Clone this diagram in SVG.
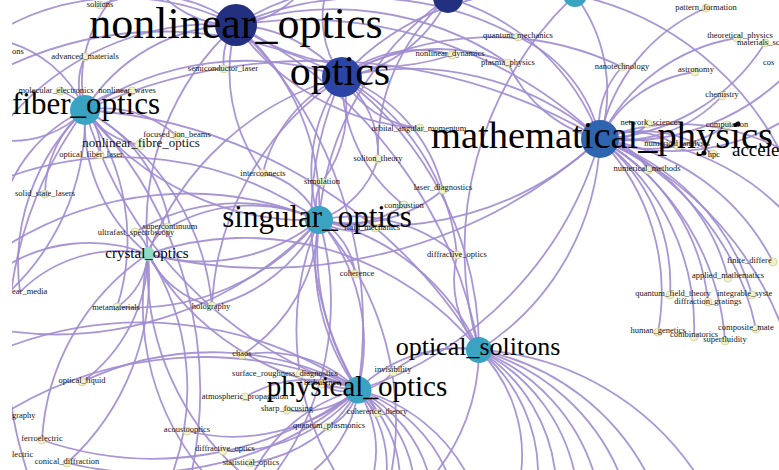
<svg xmlns="http://www.w3.org/2000/svg" width="779" height="470" viewBox="0 0 779 470">
<defs>
<clipPath id="c"><rect x="12" y="0" width="767" height="470"/></clipPath>
<style>
.e{fill:none;stroke:#a08bd0;stroke-width:1.8;stroke-opacity:.9}
.s{fill:#f2f2c8;stroke:#cfcf9c;stroke-width:.8}
.t{font-family:"Liberation Serif",serif;font-size:8.5px;fill:#151515;text-anchor:middle}
.ts{font-family:"Liberation Serif",serif;font-size:8.5px;fill:#151515;text-anchor:start}
.L{font-family:"Liberation Serif",serif;fill:#000;text-anchor:middle}
.dk{fill:#22307f}
.bl{fill:#2b45a6}
.mb{fill:#2f65ae}
.tl{fill:#3aa3c2}
</style>
</defs>
<rect width="779" height="470" fill="#fff"/>
<g clip-path="url(#c)">
<g id="connectors">
<path class="e" d="M85 110 A180 180 0 0 1 236 25"/>
<path class="e" d="M85 110 A290 290 0 0 1 342 77"/>
<path class="e" d="M85 110 A560 560 0 0 1 600 139"/>
<path class="e" d="M85 110 A280 280 0 0 0 319 220"/>
<path class="e" d="M85 110 A170 170 0 0 0 148 254"/>
<path class="e" d="M85 110 A420 420 0 0 0 358 390"/>
<path class="e" d="M85 110 A500 500 0 0 1 479 350"/>
<path class="e" d="M85 110 A110 110 0 0 0 45 194"/>
<path class="e" d="M85 110 A60 60 0 0 1 85 57"/>
<path class="e" d="M85 110 A45 45 0 0 0 60 91"/>
<path class="e" d="M85 110 A60 60 0 0 1 132 91"/>
<path class="e" d="M85 110 A60 60 0 0 1 100 155"/>
<path class="e" d="M85 110 A80 80 0 0 0 140 145"/>
<path class="e" d="M85 110 A110 110 0 0 1 177 136"/>
<path class="e" d="M85 110 A120 120 0 0 0 0 40"/>
<path class="e" d="M85 110 A100 100 0 0 1 0 140"/>
<path class="e" d="M85 110 A150 150 0 0 0 0 215"/>
<path class="e" d="M85 110 A240 240 0 0 1 0 300"/>
<path class="e" d="M85 110 A220 220 0 0 1 117 307"/>
<path class="e" d="M85 110 A210 210 0 0 0 20 292"/>
<path class="e" d="M85 110 A160 160 0 0 1 170 227"/>
<path class="e" d="M85 110 A130 130 0 0 1 120 -10"/>
<path class="e" d="M85 110 A400 400 0 0 0 30 480"/>
<path class="e" d="M85 110 A400 400 0 0 1 190 480"/>
<path class="e" d="M85 110 A250 250 0 0 1 212 306"/>
<path class="e" d="M236 25 A150 150 0 0 1 342 77"/>
<path class="e" d="M236 25 A430 430 0 0 1 600 139"/>
<path class="e" d="M236 25 A240 240 0 0 1 319 220"/>
<path class="e" d="M236 25 A60 60 0 0 0 224 69"/>
<path class="e" d="M236 25 A140 140 0 0 0 100 5"/>
<path class="e" d="M236 25 A250 250 0 0 1 448 -2"/>
<path class="e" d="M236 25 A250 250 0 0 0 452 55"/>
<path class="e" d="M236 25 A320 320 0 0 1 518 37"/>
<path class="e" d="M236 25 A270 270 0 0 0 148 254"/>
<path class="e" d="M236 25 A450 450 0 0 1 479 350"/>
<path class="e" d="M236 25 A420 420 0 0 1 358 390"/>
<path class="e" d="M236 25 A250 250 0 0 0 0 30"/>
<path class="e" d="M236 25 A270 270 0 0 0 0 130"/>
<path class="e" d="M236 25 A100 100 0 0 0 310 -20"/>
<path class="e" d="M236 25 A100 100 0 0 1 150 -20"/>
<path class="e" d="M236 25 A240 240 0 0 0 420 128"/>
<path class="e" d="M236 25 A310 310 0 0 1 508 63"/>
<path class="e" d="M236 25 A170 170 0 0 0 263 173"/>
<path class="e" d="M342 77 A290 290 0 0 1 600 139"/>
<path class="e" d="M342 77 A160 160 0 0 0 319 220"/>
<path class="e" d="M342 77 A140 140 0 0 0 448 -2"/>
<path class="e" d="M342 77 A260 260 0 0 1 575 -5"/>
<path class="e" d="M342 77 A100 100 0 0 1 378 159"/>
<path class="e" d="M342 77 A100 100 0 0 0 420 128"/>
<path class="e" d="M342 77 A140 140 0 0 0 263 173"/>
<path class="e" d="M342 77 A120 120 0 0 1 322 182"/>
<path class="e" d="M342 77 A160 160 0 0 1 443 190"/>
<path class="e" d="M342 77 A160 160 0 0 0 404 205"/>
<path class="e" d="M342 77 A340 340 0 0 1 479 350"/>
<path class="e" d="M342 77 A340 340 0 0 0 358 390"/>
<path class="e" d="M342 77 A300 300 0 0 1 622 67"/>
<path class="e" d="M342 77 A120 120 0 0 1 452 55"/>
<path class="e" d="M342 77 A180 180 0 0 1 508 63"/>
<path class="e" d="M342 77 A290 290 0 0 0 148 254"/>
<path class="e" d="M342 77 A230 230 0 0 1 457 255"/>
<path class="e" d="M342 77 A290 290 0 0 0 212 306"/>
<path class="e" d="M342 77 A370 370 0 0 0 0 70"/>
<path class="e" d="M342 77 A100 100 0 0 1 330 -20"/>
<path class="e" d="M600 139 A55 55 0 0 0 648 124"/>
<path class="e" d="M600 139 A135 135 0 0 0 727 125"/>
<path class="e" d="M600 139 A80 80 0 0 1 678 146"/>
<path class="e" d="M600 139 A120 120 0 0 1 713 154"/>
<path class="e" d="M600 139 A60 60 0 0 1 648 170"/>
<path class="e" d="M600 139 A230 230 0 0 1 773 262"/>
<path class="e" d="M600 139 A200 200 0 0 1 728 278"/>
<path class="e" d="M600 139 A185 185 0 0 1 670 295"/>
<path class="e" d="M600 139 A235 235 0 0 1 752 295"/>
<path class="e" d="M600 139 A210 210 0 0 1 708 302"/>
<path class="e" d="M600 139 A220 220 0 0 1 658 332"/>
<path class="e" d="M600 139 A235 235 0 0 1 694 337"/>
<path class="e" d="M600 139 A265 265 0 0 1 756 329"/>
<path class="e" d="M600 139 A255 255 0 0 1 725 341"/>
<path class="e" d="M600 139 A85 85 0 0 1 622 67"/>
<path class="e" d="M600 139 A125 125 0 0 1 695 72"/>
<path class="e" d="M600 139 A140 140 0 0 0 722 96"/>
<path class="e" d="M600 139 A185 185 0 0 1 737 38"/>
<path class="e" d="M600 139 A205 205 0 0 0 765 43"/>
<path class="e" d="M600 139 A180 180 0 0 1 706 8"/>
<path class="e" d="M600 139 A230 230 0 0 0 800 60"/>
<path class="e" d="M600 139 A145 145 0 0 0 518 37"/>
<path class="e" d="M600 139 A135 135 0 0 1 508 63"/>
<path class="e" d="M600 139 A160 160 0 0 0 575 -5"/>
<path class="e" d="M600 139 A230 230 0 0 0 448 -2"/>
<path class="e" d="M600 139 A320 320 0 0 1 319 220"/>
<path class="e" d="M600 139 A260 260 0 0 1 479 350"/>
<path class="e" d="M600 139 A370 370 0 0 1 358 390"/>
<path class="e" d="M600 139 A500 500 0 0 1 148 254"/>
<path class="e" d="M600 139 A220 220 0 0 1 800 160"/>
<path class="e" d="M600 139 A220 220 0 0 0 800 110"/>
<path class="e" d="M600 139 A240 240 0 0 1 800 230"/>
<path class="e" d="M600 139 A330 330 0 0 1 800 400"/>
<path class="e" d="M319 220 A80 80 0 0 0 263 173"/>
<path class="e" d="M319 220 A45 45 0 0 1 322 182"/>
<path class="e" d="M319 220 A95 95 0 0 0 378 159"/>
<path class="e" d="M319 220 A65 65 0 0 0 375 228"/>
<path class="e" d="M319 220 A70 70 0 0 1 355 274"/>
<path class="e" d="M319 220 A160 160 0 0 1 212 306"/>
<path class="e" d="M319 220 A190 190 0 0 1 148 254"/>
<path class="e" d="M319 220 A200 200 0 0 0 135 232"/>
<path class="e" d="M319 220 A165 165 0 0 0 170 227"/>
<path class="e" d="M319 220 A240 240 0 0 1 117 307"/>
<path class="e" d="M319 220 A160 160 0 0 1 457 255"/>
<path class="e" d="M319 220 A145 145 0 0 0 443 190"/>
<path class="e" d="M319 220 A100 100 0 0 0 404 205"/>
<path class="e" d="M319 220 A230 230 0 0 1 479 350"/>
<path class="e" d="M319 220 A190 190 0 0 1 358 390"/>
<path class="e" d="M319 220 A260 260 0 0 0 358 390"/>
<path class="e" d="M319 220 A340 340 0 0 0 0 250"/>
<path class="e" d="M319 220 A360 360 0 0 1 0 330"/>
<path class="e" d="M319 220 A290 290 0 0 1 270 480"/>
<path class="e" d="M319 220 A280 280 0 0 0 340 480"/>
<path class="e" d="M319 220 A300 300 0 0 1 390 480"/>
<path class="e" d="M319 220 A220 220 0 0 0 377 413"/>
<path class="e" d="M319 220 A170 170 0 0 1 242 355"/>
<path class="e" d="M319 220 A340 340 0 0 0 0 180"/>
<path class="e" d="M148 254 A30 30 0 0 0 135 232"/>
<path class="e" d="M148 254 A40 40 0 0 1 170 227"/>
<path class="e" d="M148 254 A70 70 0 0 1 117 307"/>
<path class="e" d="M148 254 A95 95 0 0 0 212 306"/>
<path class="e" d="M148 254 A140 140 0 0 0 20 292"/>
<path class="e" d="M148 254 A250 250 0 0 1 170 480"/>
<path class="e" d="M148 254 A260 260 0 0 0 210 480"/>
<path class="e" d="M148 254 A270 270 0 0 0 250 480"/>
<path class="e" d="M148 254 A270 270 0 0 0 358 390"/>
<path class="e" d="M148 254 A160 160 0 0 1 82 382"/>
<path class="e" d="M148 254 A250 250 0 0 1 67 463"/>
<path class="e" d="M148 254 A240 240 0 0 0 42 440"/>
<path class="e" d="M148 254 A160 160 0 0 0 0 270"/>
<path class="e" d="M148 254 A300 300 0 0 1 479 350"/>
<path class="e" d="M479 350 A150 150 0 0 1 520 480"/>
<path class="e" d="M479 350 A160 160 0 0 1 538 480"/>
<path class="e" d="M479 350 A170 170 0 0 1 556 480"/>
<path class="e" d="M479 350 A180 180 0 0 1 576 480"/>
<path class="e" d="M479 350 A195 195 0 0 1 596 480"/>
<path class="e" d="M479 350 A215 215 0 0 1 622 480"/>
<path class="e" d="M479 350 A240 240 0 0 1 650 480"/>
<path class="e" d="M479 350 A280 280 0 0 1 700 480"/>
<path class="e" d="M479 350 A100 100 0 0 0 393 372"/>
<path class="e" d="M479 350 A140 140 0 0 0 358 390"/>
<path class="e" d="M479 350 A110 110 0 0 1 457 255"/>
<path class="e" d="M479 350 A200 200 0 0 1 430 480"/>
<path class="e" d="M358 390 A110 110 0 0 1 372 480"/>
<path class="e" d="M358 390 A115 115 0 0 1 386 480"/>
<path class="e" d="M358 390 A120 120 0 0 1 400 480"/>
<path class="e" d="M358 390 A125 125 0 0 1 414 480"/>
<path class="e" d="M358 390 A135 135 0 0 1 430 480"/>
<path class="e" d="M358 390 A150 150 0 0 1 450 480"/>
<path class="e" d="M358 390 A170 170 0 0 1 470 480"/>
<path class="e" d="M358 390 A130 130 0 0 0 242 355"/>
<path class="e" d="M358 390 A70 70 0 0 0 300 374"/>
<path class="e" d="M358 390 A45 45 0 0 1 322 384"/>
<path class="e" d="M358 390 A125 125 0 0 0 245 397"/>
<path class="e" d="M358 390 A85 85 0 0 1 287 410"/>
<path class="e" d="M358 390 A40 40 0 0 1 377 413"/>
<path class="e" d="M358 390 A55 55 0 0 1 328 427"/>
<path class="e" d="M358 390 A190 190 0 0 1 187 431"/>
<path class="e" d="M358 390 A165 165 0 0 1 223 451"/>
<path class="e" d="M358 390 A145 145 0 0 1 250 463"/>
<path class="e" d="M358 390 A50 50 0 0 0 393 372"/>
<path class="e" d="M358 390 A300 300 0 0 0 82 382"/>
<path class="e" d="M358 390 A380 380 0 0 0 0 416"/>
<path class="e" d="M358 390 A340 340 0 0 1 42 440"/>
<path class="e" d="M358 390 A320 320 0 0 1 67 463"/>
<path class="e" d="M358 390 A380 380 0 0 0 0 350"/>
<path class="e" d="M358 390 A160 160 0 0 0 250 480"/>
<path class="e" d="M358 390 A120 120 0 0 1 300 480"/>
<path class="e" d="M448 -2 A300 300 0 0 0 319 220"/>
<path class="e" d="M575 -5 A350 350 0 0 0 479 350"/>
<path class="e" d="M575 -5 A300 300 0 0 1 800 200"/>
<path class="e" d="M448 -2 A200 200 0 0 0 378 159"/>
</g>
<g id="n-solitons"><circle class="s" cx="100" cy="5" r="4"/><text class="t" x="100" y="7">solitons</text></g>
<g id="n-ons"><text class="ts" x="12" y="54">ons</text></g>
<g id="n-advanced_materials"><circle class="s" cx="85" cy="57" r="4"/><text class="t" x="85" y="59">advanced_materials</text></g>
<g id="n-semiconductor_laser"><circle class="s" cx="224" cy="69" r="4"/><text class="t" x="223" y="71">semiconductor_laser</text></g>
<g id="n-molecular_electronics"><circle class="s" cx="60" cy="91" r="4"/><text class="t" x="56" y="93">molecular_electronics</text></g>
<g id="n-nonlinear_waves"><circle class="s" cx="132" cy="91" r="4"/><text class="t" x="127" y="93">nonlinear_waves</text></g>
<g id="n-focused_ion_beams"><circle class="s" cx="177" cy="136" r="4"/><text class="t" x="177" y="137">focused_ion_beams</text></g>
<g id="n-nonlinear_fibre_optics"><circle class="s" cx="140" cy="145" r="5"/><text class="t" x="141" y="147" style="font-size:13px">nonlinear_fibre_optics</text></g>
<g id="n-optical_fiber_laser"><circle class="s" cx="100" cy="155" r="4"/><text class="t" x="91" y="157">optical_fiber_laser</text></g>
<g id="n-solid_state_lasers"><circle class="s" cx="45" cy="194" r="4"/><text class="t" x="45" y="196">solid_state_lasers</text></g>
<g id="n-ultrafast_spectroscopy"><circle class="s" cx="135" cy="232" r="4"/><text class="t" x="136" y="235">ultrafast_spectroscopy</text></g>
<g id="n-supercontinuum"><circle class="s" cx="168" cy="227" r="4"/><text class="t" x="170" y="229">supercontinuum</text></g>
<g id="n-ear_media"><text class="ts" x="12" y="294">ear_media</text></g>
<g id="n-metamaterials"><circle class="s" cx="117" cy="307" r="4"/><text class="t" x="116" y="310">metamaterials</text></g>
<g id="n-holography"><circle class="s" cx="212" cy="306" r="4"/><text class="t" x="211" y="309">holography</text></g>
<g id="n-interconnects"><circle class="s" cx="263" cy="173" r="4"/><text class="t" x="263" y="176">interconnects</text></g>
<g id="n-simulation"><circle class="s" cx="322" cy="182" r="4"/><text class="t" x="322" y="184">simulation</text></g>
<g id="n-soliton_theory"><circle class="s" cx="378" cy="159" r="4"/><text class="t" x="378" y="161">soliton_theory</text></g>
<g id="n-orbital_angular_momentum"><circle class="s" cx="420" cy="128" r="4"/><text class="t" x="419" y="131">orbital_angular_momentum</text></g>
<g id="n-combustion"><circle class="s" cx="404" cy="205" r="4"/><text class="t" x="404" y="208">combustion</text></g>
<g id="n-laser_diagnostics"><circle class="s" cx="443" cy="190" r="4"/><text class="t" x="443" y="190">laser_diagnostics</text></g>
<g id="n-fluid_mechanics"><circle class="s" cx="375" cy="228" r="4"/><text class="t" x="372" y="230">fluid_mechanics</text></g>
<g id="n-coherence"><circle class="s" cx="355" cy="274" r="4"/><text class="t" x="357" y="276">coherence</text></g>
<g id="n-diffractive_optics"><circle class="s" cx="457" cy="255" r="4"/><text class="t" x="457" y="257">diffractive_optics</text></g>
<g id="n-nonlinear_dynamics"><circle class="s" cx="452" cy="55" r="4"/><text class="t" x="450" y="56">nonlinear_dynamics</text></g>
<g id="n-quantum_mechanics"><circle class="s" cx="518" cy="37" r="4"/><text class="t" x="518" y="38">quantum_mechanics</text></g>
<g id="n-plasma_physics"><circle class="s" cx="508" cy="63" r="4"/><text class="t" x="508" y="65">plasma_physics</text></g>
<g id="n-pattern_formation"><circle class="s" cx="706" cy="8" r="4"/><text class="t" x="706" y="10">pattern_formation</text></g>
<g id="n-theoretical_physics"><circle class="s" cx="737" cy="38" r="4"/><text class="t" x="740" y="38">theoretical_physics</text></g>
<g id="n-materials_science"><circle class="s" cx="765" cy="43" r="4"/><text class="ts" x="737" y="45">materials_sc</text></g>
<g id="n-nanotechnology"><circle class="s" cx="622" cy="67" r="4"/><text class="t" x="622" y="69">nanotechnology</text></g>
<g id="n-astronomy"><circle class="s" cx="695" cy="72" r="4"/><text class="t" x="696" y="72">astronomy</text></g>
<g id="n-chemistry"><circle class="s" cx="722" cy="96" r="4"/><text class="t" x="722" y="97">chemistry</text></g>
<g id="n-cos"><text class="ts" x="763" y="65">cos</text></g>
<g id="n-network_science"><circle class="s" cx="648" cy="124" r="4"/><text class="t" x="649" y="125">network_science</text></g>
<g id="n-computation"><circle class="s" cx="727" cy="125" r="4"/><text class="t" x="727" y="127">computation</text><circle cx="738" cy="124" r="2.5" fill="#111"/></g>
<g id="n-numerical_analysis"><circle class="s" cx="678" cy="146" r="4"/><text class="t" x="677" y="146">numerical_analysis</text></g>
<g id="n-hpc"><circle class="s" cx="713" cy="154" r="4"/><text class="t" x="714" y="157">hpc</text><circle cx="704" cy="153" r="2.5" fill="#111"/></g>
<g id="n-numerical_methods"><circle class="s" cx="648" cy="170" r="4"/><text class="t" x="647" y="171">numerical_methods</text></g>
<g id="n-finite_difference"><circle class="s" cx="773" cy="262" r="4"/><text class="ts" x="727" y="263">finite_differe</text></g>
<g id="n-applied_mathematics"><circle class="s" cx="728" cy="278" r="4"/><text class="t" x="728" y="278">applied_mathematics</text></g>
<g id="n-quantum_field_theory"><circle class="s" cx="670" cy="295" r="4"/><text class="t" x="673" y="296">quantum_field_theory</text></g>
<g id="n-integrable_systems"><circle class="s" cx="752" cy="295" r="4"/><text class="ts" x="717" y="296">integrable_syste</text></g>
<g id="n-diffraction_gratings"><circle class="s" cx="708" cy="302" r="4"/><text class="t" x="708" y="304">diffraction_gratings</text></g>
<g id="n-human_genetics"><circle class="s" cx="658" cy="332" r="4"/><text class="t" x="658" y="333">human_genetics</text></g>
<g id="n-combinatorics"><circle class="s" cx="694" cy="337" r="4"/><text class="t" x="694" y="337">combinatorics</text></g>
<g id="n-composite_materials"><circle class="s" cx="756" cy="329" r="4"/><text class="ts" x="718" y="330">composite_mate</text></g>
<g id="n-superfluidity"><circle class="s" cx="725" cy="341" r="4"/><text class="t" x="725" y="342">superfluidity</text></g>
<g id="n-chaos"><circle class="s" cx="242" cy="355" r="4"/><text class="t" x="242" y="356">chaos</text></g>
<g id="n-surface_roughness_diagnostics"><circle class="s" cx="300" cy="374" r="4"/><text class="t" x="285" y="376">surface_roughness_diagnostics</text></g>
<g id="n-turbulence"><circle class="s" cx="322" cy="384" r="4"/><text class="t" x="322" y="385">turbulence</text></g>
<g id="n-atmospheric_propagation"><circle class="s" cx="245" cy="397" r="4"/><text class="t" x="245" y="399">atmospheric_propagation</text></g>
<g id="n-sharp_focusing"><circle class="s" cx="287" cy="410" r="4"/><text class="t" x="287" y="411">sharp_focusing</text></g>
<g id="n-coherence_theory"><circle class="s" cx="377" cy="413" r="4"/><text class="t" x="377" y="414">coherence_theory</text></g>
<g id="n-quantum_plasmonics"><circle class="s" cx="328" cy="427" r="4"/><text class="t" x="329" y="428">quantum_plasmonics</text></g>
<g id="n-acoustooptics"><circle class="s" cx="187" cy="431" r="4"/><text class="t" x="187" y="432">acoustooptics</text></g>
<g id="n-diffractive_optics_2"><circle class="s" cx="223" cy="451" r="4"/><text class="t" x="225" y="451">diffractive_optics</text></g>
<g id="n-statistical_optics"><circle class="s" cx="250" cy="463" r="4"/><text class="t" x="251" y="465">statistical_optics</text></g>
<g id="n-invisibility"><circle class="s" cx="393" cy="372" r="4"/><text class="t" x="393" y="372">invisibility</text></g>
<g id="n-optical_liquid"><circle class="s" cx="82" cy="382" r="4"/><text class="t" x="82" y="383">optical_liquid</text></g>
<g id="n-graphy"><text class="ts" x="12" y="418">graphy</text></g>
<g id="n-ferroelectric"><circle class="s" cx="42" cy="440" r="4"/><text class="t" x="42" y="441">ferroelectric</text></g>
<g id="n-lectric"><text class="ts" x="12" y="457">lectric</text></g>
<g id="n-conical_diffraction"><circle class="s" cx="67" cy="463" r="4"/><text class="t" x="67" y="464">conical_diffraction</text></g>
<g id="n-top1"><circle class="dk" cx="448" cy="-2" r="15"/></g>
<g id="n-top2"><circle class="tl" cx="575" cy="-5" r="12"/></g>
<g id="n-accelerator"><text x="732" y="156" style="font-family:'Liberation Serif',serif;font-size:19px;fill:#000">accele</text></g>
<g id="n-crystal_optics"><circle cx="148" cy="254" r="7" fill="#93d8c0"/><text class="L" x="147" y="258" style="font-size:15px">crystal_optics</text></g>
<g id="n-fiber_optics"><circle class="tl" cx="85" cy="110" r="15"/><text class="L" x="86" y="114" style="font-size:31px">fiber_optics</text></g>
<g id="n-singular_optics"><circle class="tl" cx="319" cy="220" r="14"/><text class="L" x="317" y="227" style="font-size:31px">singular_optics</text></g>
<g id="n-optical_solitons"><circle class="tl" cx="479" cy="350" r="13"/><text class="L" x="478" y="355" style="font-size:26px">optical_solitons</text></g>
<g id="n-physical_optics"><circle class="tl" cx="358" cy="390" r="13.5"/><text class="L" x="357" y="396" style="font-size:29px">physical_optics</text></g>
<g id="n-nonlinear_optics"><circle class="dk" cx="236" cy="25" r="21"/><text class="L" x="236" y="38" style="font-size:44px">nonlinear_optics</text></g>
<g id="n-optics"><circle class="bl" cx="342" cy="77" r="20"/><text class="L" x="340" y="85" style="font-size:42px">optics</text></g>
<g id="n-mathematical_physics"><circle class="mb" cx="600" cy="139" r="19"/><text class="L" x="602" y="148" style="font-size:38.5px">mathematical_physics</text></g>
</g>
</svg>
